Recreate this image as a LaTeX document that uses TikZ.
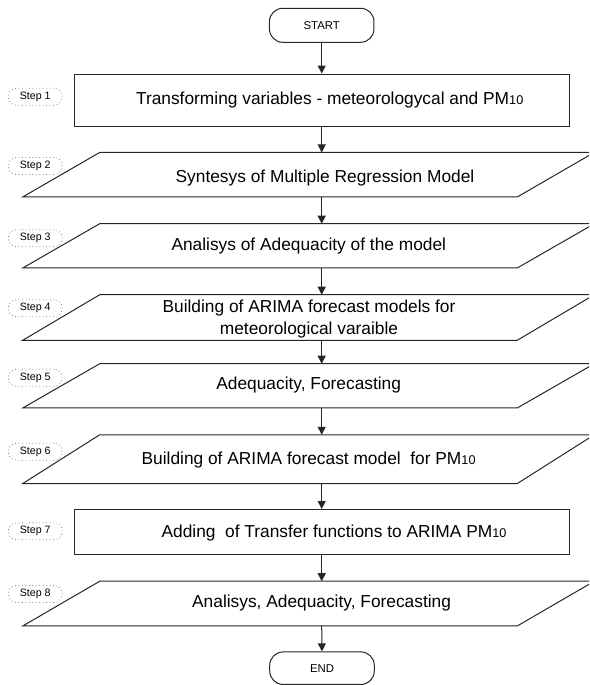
\documentclass[tikz,border=0pt]{standalone}
\usepackage{fontspec}
\setmainfont{Liberation Sans}
\usetikzlibrary{arrows.meta,calc}
\newcommand\drawpara[1]{%
  \draw[shapeline] ([xshift=28.875pt]#1.north west) -- ([xshift=28.875pt]#1.north east)
    -- ([xshift=-28.875pt]#1.south east) -- ([xshift=-28.875pt]#1.south west) -- cycle;}
\newcommand\sub[1]{{\fontsize{9.5}{10}\selectfont #1}}
\begin{document}
\begin{tikzpicture}[x=0.75pt,y=-0.75pt,
  shapeline/.style={draw=black!85, line width=0.75pt},
  terminal/.style={shapeline, rectangle, rounded corners=10pt, inner sep=0pt,
    minimum width=78.4pt, minimum height=#1, font=\fontsize{8.5}{10}\selectfont},
  rectbox/.style={shapeline, rectangle, inner sep=0pt, minimum width=371pt, minimum height=#1},
  parabox/.style={rectangle, inner sep=0pt, minimum width=370.5pt, minimum height=#1},
  maintext/.style={inner sep=0pt, font=\fontsize{13}{16.5}\selectfont, align=center},
  steplabel/.style={draw=black!50, dotted, line width=0.6pt, rectangle, rounded corners=6pt,
    inner sep=0pt, minimum width=40.3pt, minimum height=12.75pt, font=\fontsize{8}{9}\selectfont},
  arr/.style={draw=black!85, line width=0.75pt, -{Triangle[length=6pt,width=6pt]}}
]
\useasboundingbox (0,0) rectangle (589,685);
\clip (0,0) rectangle (589,685);

% terminals
\node[terminal=25.5pt] (start) at (321.7,25.3) {START};
\node[terminal=24.4pt] (end) at (322,668.2) {END};

% rectangles
\node[rectbox=39.5pt] (s1) at (321.7,100.35) {};
\node[rectbox=33.9pt] (s7) at (321.7,532.1) {};

% parallelograms
\node[parabox=33pt] (p2) at (308.5,174.7) {};
\node[parabox=32.8pt] (p3) at (308.5,245.85) {};
\node[parabox=33.75pt] (p4) at (308.5,317.5) {};
\node[parabox=32.8pt] (p5) at (308.5,385.85) {};
\node[parabox=36.2pt] (p6) at (308.5,459.15) {};
\node[parabox=33.15pt] (p8) at (308.5,603.6) {};
\drawpara{p2}
\drawpara{p3}
\drawpara{p4}
\drawpara{p5}
\drawpara{p6}
\drawpara{p8}

% texts
\node[maintext] (t1) at (329.7,100) {Transforming variables - meteorologycal and PM\sub{10}};
\node[maintext] (t2) at (325,178) {Syntesys of Multiple Regression Model};
\node[maintext] (t3) at (308.8,245.7) {Analisys of Adequacity of the model};
\node[maintext] (t4) at (309,319) {Building of ARIMA forecast models for\\meteorological varaible};
\node[maintext] (t5) at (308.7,385) {Adequacity, Forecasting};
\node[maintext] (t6) at (308.6,460) {Building of ARIMA forecast model\ \ for PM\sub{10}};
\node[maintext] (t7) at (334,533) {Adding\ \ of Transfer functions to ARIMA PM\sub{10}};
\node[maintext] (t8) at (321.6,603.5) {Analisys, Adequacity, Forecasting};

% step labels
\node[steplabel] (l1) at (35.2,96.7) {Step 1};
\node[steplabel] (l2) at (35.2,166) {Step 2};
\node[steplabel] (l3) at (35.2,238.3) {Step 3};
\node[steplabel] (l4) at (35.2,308.3) {Step 4};
\node[steplabel] (l5) at (35.2,377.7) {Step 5};
\node[steplabel] (l6) at (35.2,451.7) {Step 6};
\node[steplabel] (l7) at (35.2,531.3) {Step 7};
\node[steplabel] (l8) at (35.2,594) {Step 8};

% connectors
\draw[arr] (start.south) -- (s1.north);
\draw[arr] (s1.south) -- (s1.south |- p2.north);
\draw[arr] (p2.south -| s1) -- (s1 |- p3.north);
\draw[arr] (p3.south -| s1) -- (s1 |- p4.north);
\draw[arr] (p4.south -| s1) -- (s1 |- p5.north);
\draw[arr] (p5.south -| s1) -- (s1 |- p6.north);
\draw[arr] (p6.south -| s1) -- (s7.north);
\draw[arr] (s7.south) -- (s7.south |- p8.north);
\draw[arr] (p8.south -| s7) -- (end.north);
\end{tikzpicture}
\end{document}
